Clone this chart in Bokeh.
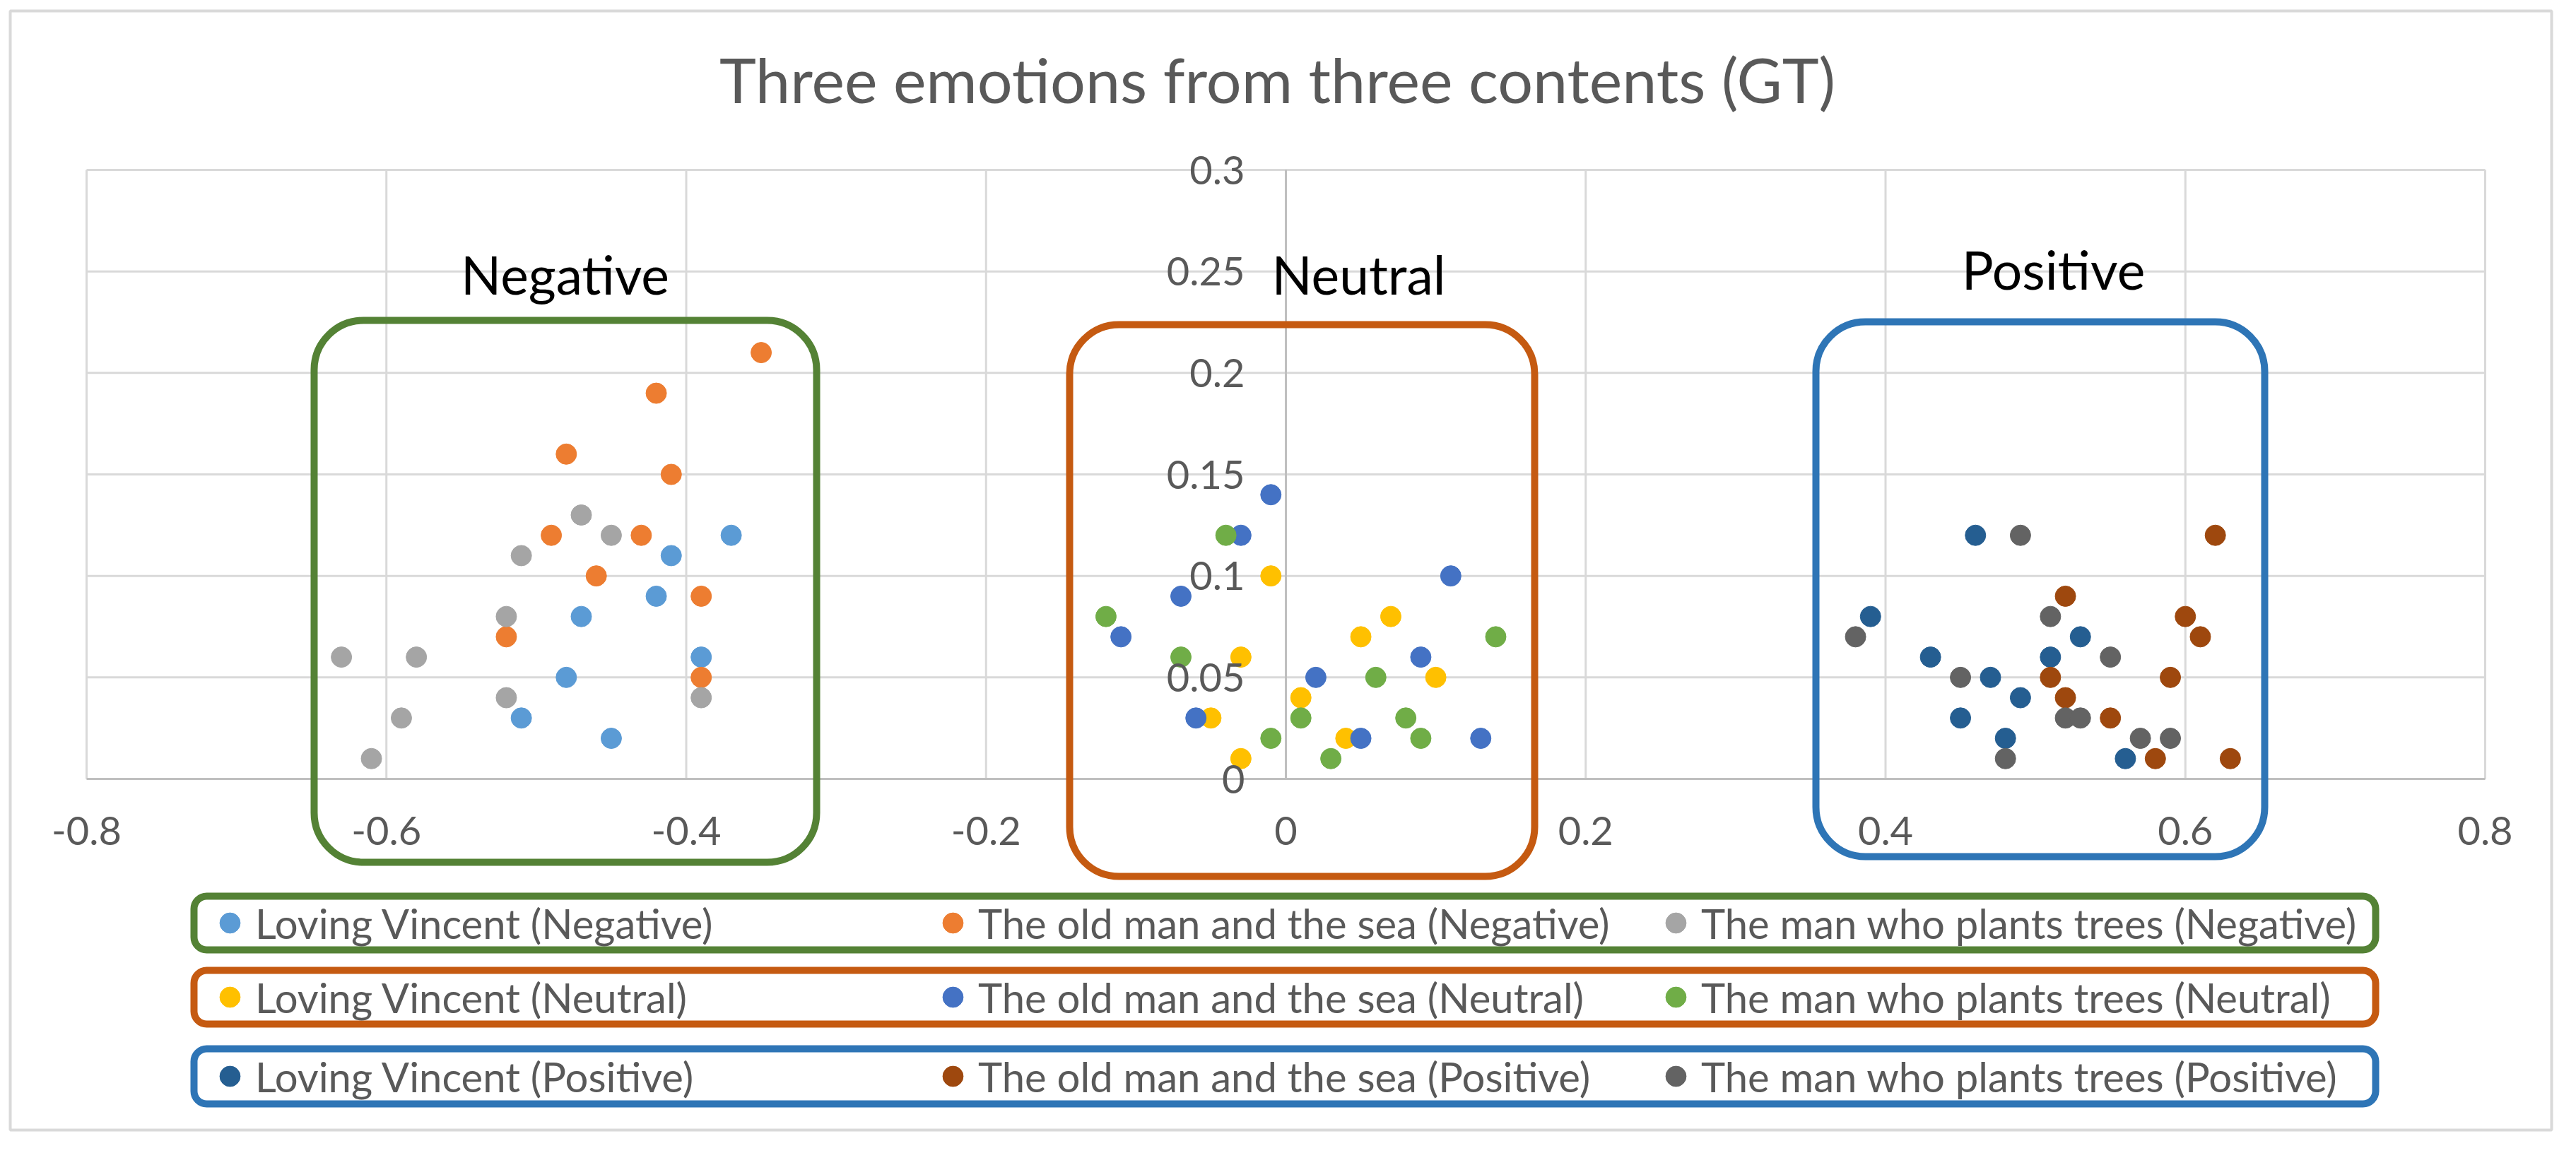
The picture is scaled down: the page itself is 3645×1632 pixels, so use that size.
from bokeh.plotting import figure
from bokeh.models import Range1d, FixedTicker, BoxAnnotation, Label, Legend, LegendItem
from bokeh.embed import file_html
from bokeh.resources import INLINE

# ---------------- data ----------------
x_ticks = [-0.8, -0.6, -0.4, -0.2, 0.0, 0.2, 0.4, 0.6, 0.8]
x_labels = ["-0.8", "-0.6", "-0.4", "-0.2", "0", "0.2", "0.4", "0.6", "0.8"]
y_ticks = [0.0, 0.05, 0.1, 0.15, 0.2, 0.25, 0.3]
y_labels = ["0", "0.05", "0.1", "0.15", "0.2", "0.25", "0.3"]

lv_neg_x = [-0.37, -0.41, -0.42, -0.47, -0.39, -0.48, -0.51, -0.45]
lv_neg_y = [0.12, 0.11, 0.09, 0.08, 0.06, 0.05, 0.03, 0.02]
om_neg_x = [-0.35, -0.42, -0.48, -0.41, -0.49, -0.43, -0.46, -0.39, -0.52, -0.39]
om_neg_y = [0.21, 0.19, 0.16, 0.15, 0.12, 0.12, 0.10, 0.09, 0.07, 0.05]
mt_neg_x = [-0.47, -0.45, -0.51, -0.52, -0.63, -0.58, -0.52, -0.39, -0.59, -0.61]
mt_neg_y = [0.13, 0.12, 0.11, 0.08, 0.06, 0.06, 0.04, 0.04, 0.03, 0.01]

lv_neu_x = [-0.01, 0.07, 0.05, -0.03, 0.10, 0.01, -0.05, 0.04, -0.03]
lv_neu_y = [0.10, 0.08, 0.07, 0.06, 0.05, 0.04, 0.03, 0.02, 0.01]
om_neu_x = [-0.01, -0.03, -0.07, -0.11, 0.11, 0.09, 0.02, -0.06, 0.05, 0.13]
om_neu_y = [0.14, 0.12, 0.09, 0.07, 0.10, 0.06, 0.05, 0.03, 0.02, 0.02]
mt_neu_x = [-0.04, -0.12, 0.14, -0.07, 0.06, 0.01, 0.08, -0.01, 0.09, 0.03]
mt_neu_y = [0.12, 0.08, 0.07, 0.06, 0.05, 0.03, 0.03, 0.02, 0.02, 0.01]

lv_pos_x = [0.46, 0.39, 0.53, 0.43, 0.51, 0.47, 0.49, 0.45, 0.48, 0.56]
lv_pos_y = [0.12, 0.08, 0.07, 0.06, 0.06, 0.05, 0.04, 0.03, 0.02, 0.01]
om_pos_x = [0.62, 0.52, 0.60, 0.61, 0.51, 0.59, 0.52, 0.55, 0.58, 0.63]
om_pos_y = [0.12, 0.09, 0.08, 0.07, 0.05, 0.05, 0.04, 0.03, 0.01, 0.01]
mt_pos_x = [0.49, 0.51, 0.38, 0.55, 0.45, 0.52, 0.53, 0.57, 0.59, 0.48]
mt_pos_y = [0.12, 0.08, 0.07, 0.06, 0.05, 0.03, 0.03, 0.02, 0.02, 0.01]

series = [
    ("Loving Vincent (Negative)", lv_neg_x, lv_neg_y, "#5B9BD5"),
    ("The old man and the sea (Negative)", om_neg_x, om_neg_y, "#ED7D31"),
    ("The man who plants trees (Negative)", mt_neg_x, mt_neg_y, "#A5A5A5"),
    ("Loving Vincent (Neutral)", lv_neu_x, lv_neu_y, "#FFC000"),
    ("The old man and the sea (Neutral)", om_neu_x, om_neu_y, "#4472C4"),
    ("The man who plants trees (Neutral)", mt_neu_x, mt_neu_y, "#70AD47"),
    ("Loving Vincent (Positive)", lv_pos_x, lv_pos_y, "#255E91"),
    ("The old man and the sea (Positive)", om_pos_x, om_pos_y, "#9E480E"),
    ("The man who plants trees (Positive)", mt_pos_x, mt_pos_y, "#636363"),
]

# ---------------- geometry ----------------
W, H = 3629, 1616
PL, PR, PT, PB = 122, 3516, 240, 1102   # plot area in canvas px
XMIN, XMAX, YMIN, YMAX = -0.8, 0.8, 0.0, 0.3
ppx = (PR - PL) / (XMAX - XMIN)
ppy = (PB - PT) / (YMAX - YMIN)
x_start = XMIN - PL / ppx
x_end = XMAX + (W - PR) / ppx
y_start = YMIN - (H - PB) / ppy
y_end = YMAX + PT / ppy


def dx(sx):
    return x_start + (sx - 8) / ppx


def dy(sy):
    return y_end - (sy - 8) / ppy


p = figure(width=W, height=H, x_range=Range1d(x_start, x_end), y_range=Range1d(y_start, y_end),
           output_backend="svg", toolbar_location=None, min_border=0)
p.outline_line_color = None
p.grid.visible = False
p.background_fill_color = "white"
p.border_fill_color = "white"

GRID = "#D9D9D9"
AXIS = "#BFBFBF"
TXT = "#595959"
FONT = "Lato"

# grid lines limited to the plot area
p.multi_line([[t, t] for t in x_ticks], [[YMIN, YMAX] for _ in x_ticks], line_color=GRID, line_width=3)
p.multi_line([[XMIN, XMAX] for t in y_ticks[1:]], [[t, t] for t in y_ticks[1:]], line_color=GRID, line_width=3)

# axes crossing at 0
xa = p.xaxis[0]
xa.fixed_location = 0
xa.bounds = (XMIN, XMAX)
xa.ticker = FixedTicker(ticks=x_ticks)
xa.major_label_overrides = {t: s for t, s in zip(x_ticks, x_labels)}
ya = p.yaxis[0]
ya.fixed_location = 0
ya.bounds = (YMIN, YMAX)
ya.ticker = FixedTicker(ticks=y_ticks)
ya.major_label_overrides = {t: s for t, s in zip(y_ticks, y_labels)}
for ax in (xa, ya):
    ax.axis_line_color = AXIS
    ax.axis_line_width = 3
    ax.major_tick_line_color = None
    ax.minor_tick_line_color = None
    ax.major_tick_in = 0
    ax.major_tick_out = 0
    ax.major_label_text_font = FONT
    ax.major_label_text_font_size = "56px"
    ax.major_label_text_color = TXT
xa.major_label_standoff = 53
ya.major_label_standoff = 58

renderers = []
for name, xs, ys, col in series:
    r = p.scatter(xs, ys, size=29, fill_color=col, line_color=col, line_width=1)
    renderers.append(r)

# outer chart border
p.add_layout(BoxAnnotation(left=dx(22), right=dx(3618), top=dy(23), bottom=dy(1607),
                           fill_color=None, line_color=GRID, line_alpha=1.0, line_width=4,
                           level="underlay"))

# group boxes
boxes = [((452, 1163, 461, 1228), "#548235"),
         ((1521, 2179, 467, 1248), "#C55A11"),
         ((2577, 3212, 463, 1220), "#2E75B6")]
for (l, r_, t, b), c in boxes:
    p.add_layout(BoxAnnotation(left=dx(l), right=dx(r_), top=dy(t), bottom=dy(b), fill_color=None,
                               line_color=c, line_alpha=1.0, line_width=10, border_radius=70))

# legend boxes
lboxes = [((282, 3369, 1276, 1352), "#548235"),
          ((282, 3369, 1381, 1457), "#C55A11"),
          ((282, 3369, 1492, 1570), "#2E75B6")]
for (l, r_, t, b), c in lboxes:
    p.add_layout(BoxAnnotation(left=dx(l), right=dx(r_), top=dy(t), bottom=dy(b), fill_color=None,
                               line_color=c, line_alpha=1.0, line_width=10, border_radius=18))

# texts
p.add_layout(Label(x=dx(1815), y=dy(119), text="Three emotions from three contents (GT)",
                   text_align="center", text_baseline="alphabetic", text_font=FONT,
                   text_font_size="88px", text_color=TXT))
for txt, cx, base in [("Negative", 807, 395), ("Neutral", 1930, 395), ("Positive", 2913, 388)]:
    p.add_layout(Label(x=dx(cx), y=dy(base), text=txt, text_align="center", text_baseline="alphabetic",
                       text_font=FONT, text_font_size="75px", text_color="black"))

# legends (one per row)
row_bottoms = [272, 167, 55]
for i in range(3):
    items = [LegendItem(label=series[3 * i + k][0], renderers=[renderers[3 * i + k]]) for k in range(3)]
    leg = Legend(items=items, orientation="horizontal", location=(289, row_bottoms[i]),
                 glyph_width=72, glyph_height=76, label_width=951, label_height=76, label_standoff=0,
                 spacing=0, padding=0, margin=0, border_line_color=None, background_fill_alpha=0,
                 label_text_font=FONT, label_text_font_size="58px", label_text_color=TXT)
    p.add_layout(leg, "center")

open("out.html", "w").write(file_html(p, INLINE))
